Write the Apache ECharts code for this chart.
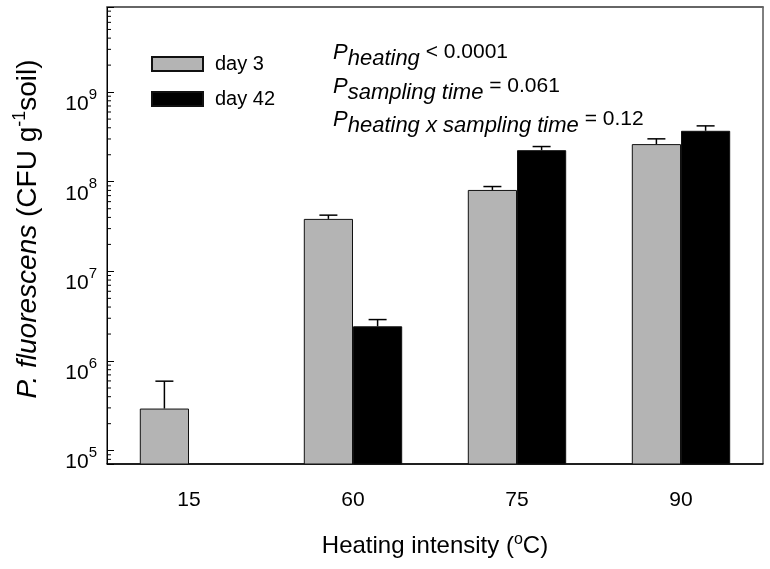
<!DOCTYPE html>
<html><head><meta charset="utf-8">
<script src="https://cdn.jsdelivr.net/npm/echarts@6/dist/echarts.min.js"></script>
<style>html,body{margin:0;padding:0;background:#fff}#c{width:770px;height:569px}</style>
</head><body><div id="c"></div>
<script>
// ---- data ----
const categories = ['15', '60', '75', '90'];
const day3 = [2.95e5, 3.85e7, 8.1e7, 2.63e8];
const day3ErrUpper = [5.96e5, 4.24e7, 8.84e7, 3.01e8];
const day42 = [null, 2.44e6, 2.25e8, 3.70e8];
const day42ErrUpper = [null, 2.9e6, 2.47e8, 4.2e8];
const yMin = 7.1e4, yMax = 8.9e9;
const tickDecades = [4, 5, 6, 7, 8, 9];
const minorMultipliers = [2, 3, 4, 5, 6, 7, 8, 9];
const seriesNames = ['day 3', 'day 42'];

const FONT = 'Liberation Sans, Arial, sans-serif';

const minorTicks = [];
tickDecades.forEach(d => minorMultipliers.forEach(m => {
  const v = m * Math.pow(10, d);
  if (v > yMin && v < yMax) minorTicks.push([0, v]);
}));

function errData(vals, ups) {
  const out = [];
  vals.forEach((v, i) => { if (v != null && ups[i] != null) out.push([i, v, ups[i]]); });
  return out;
}

function errRender(offsetFrac) {
  return function (params, api) {
    const i = api.value(0), v = api.value(1), hi = api.value(2);
    const band = params.coordSys.width / categories.length;
    const p0 = api.coord([i, v]);
    const p1 = api.coord([i, hi]);
    const x = p0[0] + offsetFrac * band;
    const cap = 9;
    return {
      type: 'group', children: [
        { type: 'line', shape: { x1: x, y1: p0[1], x2: x, y2: p1[1] }, style: { stroke: '#000', lineWidth: 1.5 } },
        { type: 'line', shape: { x1: x - cap, y1: p1[1], x2: x + cap, y2: p1[1] }, style: { stroke: '#000', lineWidth: 1.5 } }
      ]
    };
  };
}

function isPow10(v) {
  const l = Math.log10(v);
  return Math.abs(l - Math.round(l)) < 1e-6 ? Math.round(l) : null;
}

function annRich() {
  return {
    p: { fontSize: 22, fontStyle: 'italic', fill: '#000', fontFamily: FONT, padding: [0, 0, 6, 0] },
    s: { fontSize: 22, fontStyle: 'italic', fill: '#000', fontFamily: FONT, padding: [6, 0, 0, 0] },
    v: { fontSize: 21, fill: '#000', fontFamily: FONT, padding: [0, 0, 7, 0] }
  };
}

const chart = echarts.init(document.getElementById('c'), null, { renderer: 'canvas' });
chart.setOption({
  animation: false,
  backgroundColor: '#fff',
  textStyle: { fontFamily: FONT },
  grid: { left: 107, right: 7, top: 7, bottom: 105, show: true, borderColor: '#000', borderWidth: 1, backgroundColor: 'transparent' },
  legend: {
    data: seriesNames, orient: 'vertical', left: 151, top: 54, padding: 0,
    itemWidth: 51, itemHeight: 14, itemGap: 15, icon: 'rect',
    textStyle: { fontSize: 20, color: '#000', fontFamily: FONT, padding: [0, 0, 0, 7] }
  },
  xAxis: [{
    type: 'category', data: categories, position: 'bottom',
    axisLine: { lineStyle: { color: '#000', width: 1.5 } },
    axisTick: { show: false },
    axisLabel: { fontSize: 21, color: '#000', margin: 26, fontFamily: FONT },
    name: '{t|Heating intensity (}{s|o}{t|C)}', nameLocation: 'middle', nameGap: 68,
    nameTextStyle: {
      rich: {
        t: { fontSize: 24, color: '#000', fontFamily: FONT },
        s: { fontSize: 16, color: '#000', fontFamily: FONT, padding: [0, 0, 12, 0] }
      }
    }
  }, {
    type: 'category', data: categories, position: 'top',
    axisLine: { lineStyle: { color: '#666', width: 2 } },
    axisTick: { show: false }, axisLabel: { show: false }
  }],
  yAxis: {
    type: 'log', logBase: 10, min: yMin, max: yMax,
    axisLine: { show: true, lineStyle: { color: '#000', width: 1 } },
    axisTick: { show: true, inside: true, length: 7, lineStyle: { color: '#000' } },
    splitLine: { show: false },
    axisLabel: {
      margin: 10, color: '#000',
      formatter: function (v) {
        const n = isPow10(v);
        return n == null ? '' : '{b|10}{s|' + n + '}';
      },
      rich: {
        b: { fontSize: 21, color: '#000', fontFamily: FONT, padding: [24, 0, 0, 0] },
        s: { fontSize: 15, color: '#000', fontFamily: FONT, padding: [5, 0, 0, 0] }
      }
    }
  },
  series: [
    {
      name: seriesNames[0], type: 'bar', data: day3, barWidth: '30%', barGap: '0%',
      itemStyle: { color: '#b4b4b4', borderColor: '#111', borderWidth: 1 }
    },
    {
      name: seriesNames[1], type: 'bar', data: day42, barWidth: '30%', barGap: '0%',
      itemStyle: { color: '#000', borderColor: '#111', borderWidth: 1 }
    },
    { type: 'custom', name: 'err3', data: errData(day3, day3ErrUpper), renderItem: errRender(-0.15), z: 5 },
    { type: 'custom', name: 'err42', data: errData(day42, day42ErrUpper), renderItem: errRender(0.15), z: 5 },
    {
      type: 'custom', name: 'minor', data: minorTicks, z: 5,
      renderItem: function (params, api) {
        const y = api.coord([0, api.value(1)])[1];
        const x0 = params.coordSys.x;
        return { type: 'line', shape: { x1: x0, y1: y, x2: x0 + 4, y2: y }, style: { stroke: '#000', lineWidth: 1 } };
      }
    }
  ],
  graphic: [
    {
      type: 'text', x: 28, y: 229, rotation: Math.PI / 2,
      style: {
        text: '{i|P. fluorescens}{n| (CFU g}{s|-1}{n|soil)}',
        align: 'center', verticalAlign: 'middle',
        rich: {
          i: { fontSize: 28, fontStyle: 'italic', fill: '#000', fontFamily: FONT },
          n: { fontSize: 28, fill: '#000', fontFamily: FONT },
          s: { fontSize: 18, fill: '#000', fontFamily: FONT, padding: [0, 0, 16, 0] }
        }
      }
    },
    {
      type: 'group', left: 333, top: 42, children: [
        { type: 'text', x: 0, y: 0, style: { text: '{p|P}{s|heating}{v| < 0.0001}', rich: annRich() } },
        { type: 'text', x: 0, y: 34, style: { text: '{p|P}{s|sampling time}{v| = 0.061}', rich: annRich() } },
        { type: 'text', x: 0, y: 67, style: { text: '{p|P}{s|heating x sampling time}{v| = 0.12}', rich: annRich() } }
      ]
    }
  ]
});
</script></body></html>
